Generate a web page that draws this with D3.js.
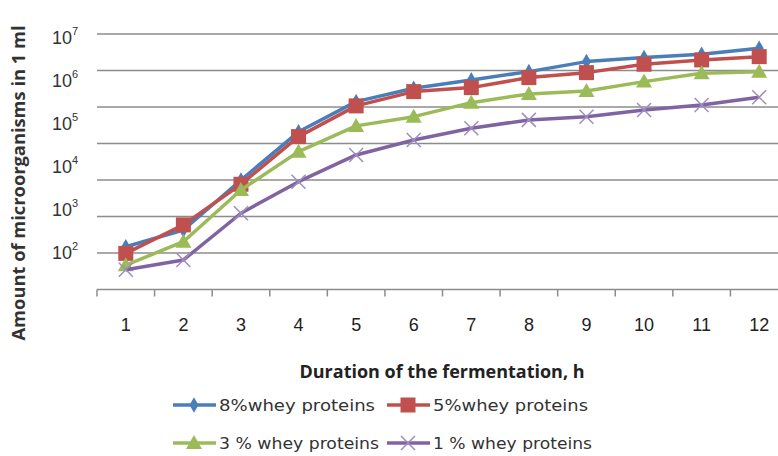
<!DOCTYPE html>
<html>
<head>
<meta charset="utf-8">
<script src="https://cdn.jsdelivr.net/npm/d3@7"></script>
<style>
  body { margin: 0; background: #fff; }
  svg { display: block; }
</style>
</head>
<body>
<svg id="chart" width="778" height="456"></svg>
<script>
// data (counts per ml)
const hours = [1, 2, 3, 4, 5, 6, 7, 8, 9, 10, 11, 12]
const whey8 = [134, 327, 4700, 62000, 310000, 635000, 990000, 1540000, 2630000, 3260000, 3910000, 5380000]
const whey5 = [94, 430, 3760, 48000, 247000, 530000, 656000, 1120000, 1460000, 2290000, 2880000, 3430000]
const whey3 = [50, 175, 2770, 21500, 85000, 139000, 294000, 469000, 550000, 904000, 1420000, 1540000]
const whey1 = [39, 66, 800, 4320, 18000, 40100, 75000, 117000, 139000, 199000, 260000, 393000]
const seriesNames = ["8%whey proteins", "5%whey proteins", "3 % whey proteins", "1 % whey proteins"]
const seriesColors = ["#4A7EBB", "#C0504D", "#9BBB59", "#8064A2"]
const seriesMarkers = ["diamond", "square", "triangle", "cross"]
const legendWidths = [156, 155, 160, 159]
const powers = [2, 3, 4, 5, 6, 7]
const gridRows = [1, 2, 3, 4, 5, 6, 7]

const svg = d3.select("#chart")

const x = d3.scaleBand().domain(hours).range([97, 788])
// value scale (the one the tick labels refer to)
const y = d3.scaleLog().domain([1e2, 1e7]).range([252.2, 36.6])
// gridline rows of the plot area
const grid = d3.scaleLinear().domain([0, 7]).range([289.5, 34])

// gridlines
svg.append("g")
    .selectAll("line")
    .data(gridRows)
    .enter().append("line")
    .attr("x1", 97).attr("x2", 778)
    .attr("y1", d => grid(d)).attr("y2", d => grid(d))
    .attr("stroke", "#8c8c8c")
    .attr("stroke-width", 1.5)

// x axis line + boundary ticks
const xg = svg.append("g")
xg.append("line")
    .attr("x1", 97).attr("x2", 778)
    .attr("y1", grid(0)).attr("y2", grid(0))
    .attr("stroke", "#8c8c8c").attr("stroke-width", 1.5)
xg.selectAll(".tk")
    .data(hours.concat([13]))
    .enter().append("line")
    .attr("class", "tk")
    .attr("x1", d => d <= 12 ? x(d) : x(12) + x.bandwidth())
    .attr("x2", d => d <= 12 ? x(d) : x(12) + x.bandwidth())
    .attr("y1", grid(0)).attr("y2", grid(0) + 7)
    .attr("stroke", "#8c8c8c").attr("stroke-width", 1.5)

const xAxis = d3.axisBottom(x).tickSize(0).tickPadding(29)
const xa = svg.append("g")
    .attr("transform", "translate(0," + grid(0) + ")")
    .call(xAxis)
xa.select(".domain").remove()
xa.selectAll("text")
    .attr("font-family", "Liberation Sans Narrow, Liberation Sans, sans-serif")
    .attr("font-size", 18)
    .attr("fill", "#222")

// y tick labels 10^k
const yl = svg.append("g")
powers.forEach(p => {
    let t = yl.append("text")
        .attr("x", 52)
        .attr("y", y(Math.pow(10, p)) + 7)
        .attr("font-family", "Liberation Sans Narrow, Liberation Sans, sans-serif")
        .attr("font-size", 18)
        .attr("fill", "#333")
    t.append("tspan").text("10")
    t.append("tspan").attr("dy", -9).attr("font-size", 11).text(p)
})

// axis titles
svg.append("text")
    .attr("transform", "translate(25,183) rotate(-90)")
    .attr("text-anchor", "middle")
    .attr("font-family", "Open Sans, sans-serif")
    .attr("font-weight", "bold")
    .attr("font-size", 17)
    .attr("fill", "#333")
    .attr("textLength", 315)
    .attr("lengthAdjust", "spacingAndGlyphs")
    .text("Amount of microorganisms  in 1 ml")

svg.append("text")
    .attr("x", 442).attr("y", 378)
    .attr("text-anchor", "middle")
    .attr("font-family", "Open Sans, sans-serif")
    .attr("font-weight", "bold")
    .attr("font-size", 17)
    .attr("fill", "#222")
    .attr("textLength", 285)
    .attr("lengthAdjust", "spacingAndGlyphs")
    .text("Duration of the fermentation, h")

function drawMarker(g, type, color) {
    if (type === "diamond") {
        g.append("path").attr("d", d3.symbol(d3.symbolDiamond, 70)()).attr("fill", color)
    } else if (type === "square") {
        g.append("rect").attr("x", -7.5).attr("y", -7.5).attr("width", 15).attr("height", 15).attr("fill", color)
    } else if (type === "triangle") {
        g.append("path").attr("d", "M0,-8L8,6L-8,6Z").attr("fill", color)
    } else {
        g.append("path").attr("d", "M-7,-7L7,7M-7,7L7,-7").attr("stroke", "#a08cc0").attr("stroke-width", 1.5)
    }
}

const allSeries = [whey8, whey5, whey3, whey1]
const line = d3.line()
    .x((d, i) => x(hours[i]) + x.bandwidth() / 2)
    .y(d => y(d))

allSeries.forEach((vals, si) => {
    const g = svg.append("g")
    g.append("path")
        .datum(vals)
        .attr("d", line)
        .attr("fill", "none")
        .attr("stroke", seriesColors[si])
        .attr("stroke-width", 3.5)
        .attr("stroke-linejoin", "round")
    vals.forEach((v, i) => {
        const m = g.append("g")
            .attr("transform", "translate(" + (x(hours[i]) + x.bandwidth() / 2) + "," + y(v) + ")")
        drawMarker(m, seriesMarkers[si], seriesColors[si])
    })
})

// legend
const legendPos = [[173, 405], [387, 405], [173, 443], [387, 443]]
seriesNames.forEach((name, si) => {
    const lg = svg.append("g").attr("transform", "translate(" + legendPos[si][0] + "," + legendPos[si][1] + ")")
    lg.append("line").attr("x1", 0).attr("x2", 43).attr("y1", 0).attr("y2", 0)
        .attr("stroke", seriesColors[si]).attr("stroke-width", 3.5)
    const m = lg.append("g").attr("transform", "translate(21,0)")
    drawMarker(m, seriesMarkers[si], seriesColors[si])
    lg.append("text")
        .attr("x", 46).attr("y", 6)
        .attr("font-family", "DejaVu Sans, sans-serif")
        .attr("font-size", 16)
        .attr("fill", "#333")
        .attr("textLength", legendWidths[si])
        .attr("lengthAdjust", "spacingAndGlyphs")
        .text(name)
})
</script>
</body>
</html>
